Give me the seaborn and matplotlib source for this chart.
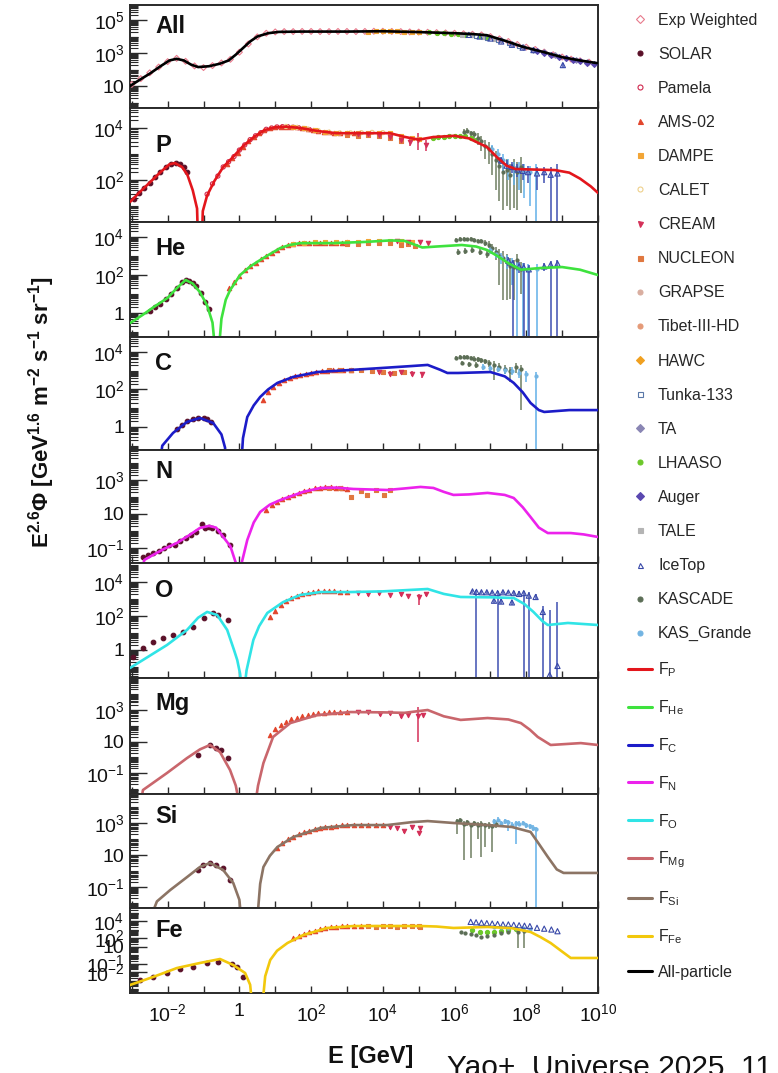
import numpy as np
import matplotlib
matplotlib.use("Agg")
import matplotlib.pyplot as plt
import seaborn as sns
from matplotlib.lines import Line2D
from matplotlib.ticker import FixedLocator, FixedFormatter, NullFormatter, LogLocator, NullLocator

# All values are log10(E / GeV) and log10(E^2.6 * flux)

# ---------------- all-particle ----------------
all_model_lge = [-3.05, -2.8, -2.5, -2.2, -1.95, -1.75, -1.55, -1.35, -1.15, -0.85, -0.55, -0.3, -0.1, 0.1, 0.3, 0.5,
                 0.8, 1.1, 1.7, 3.0, 4.0, 5.0, 6.0, 6.5, 6.9, 7.4, 7.9, 8.5, 9.0, 9.5, 10.0]
all_model_lgf = [1.0, 1.35, 1.75, 2.2, 2.55, 2.65, 2.55, 2.3, 2.15, 2.2, 2.35, 2.55, 2.9, 3.3, 3.7, 4.0,
                 4.2, 4.28, 4.3, 4.3, 4.32, 4.27, 4.2, 4.15, 4.08, 3.75, 3.38, 3.05, 2.75, 2.55, 2.38]
all_expw_lge = [-3.0, -2.75, -2.5, -2.25, -2.0, -1.75, -1.5, -1.25, -1.0, -0.75, -0.5, -0.25, 0.0, 0.25, 0.5, 0.75,
                1.0, 1.25, 1.5, 1.75, 2.0, 2.25, 2.5, 2.75, 3.0, 3.25, 3.5, 3.75, 4.0, 4.25, 4.5, 4.75, 5.0, 5.25,
                5.5, 5.75, 6.0, 6.25, 6.5, 6.75, 7.0, 7.25, 7.5, 7.75, 8.0, 8.25, 8.5, 8.75, 9.0, 9.25, 9.5, 9.75]
all_expw_lgf = [1.1, 1.45, 1.8, 2.15, 2.48, 2.68, 2.5, 2.22, 2.12, 2.24, 2.4, 2.62, 3.05, 3.55, 3.98, 4.2,
                4.28, 4.3, 4.3, 4.31, 4.31, 4.3, 4.3, 4.31, 4.31, 4.3, 4.31, 4.32, 4.32, 4.31, 4.3, 4.28, 4.27, 4.26,
                4.24, 4.22, 4.2, 4.17, 4.14, 4.1, 4.0, 3.86, 3.7, 3.52, 3.36, 3.22, 3.06, 2.9, 2.76, 2.63, 2.53, 2.45]
all_dampe_lge = [3.6, 3.8, 4.0, 4.2, 4.4, 4.6, 4.8, 5.0]
all_dampe_lgf = [4.3, 4.31, 4.32, 4.33, 4.31, 4.3, 4.28, 4.27]
all_lhaaso_lge = [5.3, 5.5, 5.7, 5.9, 6.1, 6.3, 6.5, 6.7, 6.9]
all_lhaaso_lgf = [4.25, 4.22, 4.2, 4.18, 4.15, 4.12, 4.08, 4.04, 3.98]
all_tale_lge = [6.2, 6.5, 6.8, 7.1]
all_tale_lgf = [4.12, 4.07, 3.98, 3.85]
all_tunka_lge = [6.6, 6.9, 7.2, 7.5, 7.8]
all_tunka_lgf = [4.05, 3.93, 3.78, 3.58, 3.4]
all_ta_lge = [7.3, 7.6, 7.9, 8.2, 8.5, 8.8, 9.1, 9.4, 9.7]
all_ta_lgf = [3.78, 3.55, 3.38, 3.2, 3.05, 2.88, 2.7, 2.55, 2.45]
all_auger_lge = [8.3, 8.5, 8.7, 8.9, 9.1, 9.3, 9.5, 9.7, 9.9]
all_auger_lgf = [3.12, 3.0, 2.88, 2.78, 2.68, 2.58, 2.5, 2.42, 2.36]
all_icetop_lge = [6.4, 6.7, 7.0, 7.3, 7.6, 7.9, 8.2, 9.02]
all_icetop_lgf = [4.1, 4.0, 3.88, 3.7, 3.5, 3.33, 3.18, 2.27]
all_icetop_lo = [4.05, 3.95, 3.83, 3.65, 3.45, 3.28, 3.12, 2.1]
all_icetop_hi = [4.15, 4.05, 3.93, 3.75, 3.55, 3.38, 3.24, 2.42]

# ---------------- proton ----------------
p_model_lge = [-3.05, -2.8, -2.5, -2.2, -1.95, -1.8, -1.6, -1.45, -1.3, -1.18, -1.1, -1.02, -0.9, -0.7, -0.45, -0.2,
               0.1, 0.4, 0.7, 1.0, 1.3, 1.7, 2.2, 2.7, 3.5, 4.2, 4.6, 5.0, 5.4, 6.0, 6.4, 6.9, 7.2, 7.45, 7.7,
               8.2, 8.8, 9.2, 9.5, 9.8, 10.0]
p_model_lgf = [1.15, 1.5, 1.9, 2.3, 2.6, 2.65, 2.5, 2.2, 1.6, 0.9, -3.0, 0.8, 1.4, 1.95, 2.5, 2.85,
               3.3, 3.65, 3.92, 4.03, 4.05, 4.0, 3.88, 3.8, 3.8, 3.8, 3.66, 3.55, 3.65, 3.7, 3.6, 3.27, 2.85, 2.55, 2.42,
               2.4, 2.38, 2.28, 2.05, 1.75, 1.5]
p_solar_lge = [-2.95, -2.8, -2.65, -2.5, -2.35, -2.2, -2.05, -1.9, -1.78, -1.65, -1.55, -1.45]
p_solar_lgf = [1.25, 1.5, 1.7, 1.9, 2.1, 2.3, 2.48, 2.62, 2.66, 2.6, 2.5, 2.3]
p_pamela_lge = [-0.9, -0.75, -0.6, -0.45, -0.3, -0.15, 0.0, 0.15, 0.3, 0.45, 0.6, 0.75, 0.9, 1.05, 1.2, 1.35, 1.5,
                1.65, 1.8, 1.95, 2.1]
p_pamela_lgf = [1.45, 1.85, 2.15, 2.5, 2.7, 2.9, 3.15, 3.35, 3.55, 3.7, 3.82, 3.95, 4.0, 4.04, 4.05, 4.05, 4.03,
                4.01, 3.98, 3.94, 3.9]
p_ams_lge = [-0.35, -0.2, -0.05, 0.1, 0.25, 0.4, 0.55, 0.7, 0.85, 1.0, 1.15, 1.3, 1.45, 1.6, 1.75, 1.9, 2.05, 2.2,
             2.35, 2.5, 2.65, 2.8, 3.0, 3.2]
p_ams_lgf = [2.62, 2.85, 3.05, 3.28, 3.48, 3.65, 3.8, 3.92, 3.99, 4.03, 4.05, 4.05, 4.04, 4.02, 4.0, 3.96, 3.92, 3.88,
             3.85, 3.83, 3.81, 3.8, 3.8, 3.79]
p_dampe_lge = [1.5, 1.8, 2.1, 2.4, 2.7, 3.0, 3.3, 3.6, 3.9, 4.2, 4.5, 4.8, 5.0]
p_dampe_lgf = [4.04, 3.99, 3.92, 3.86, 3.82, 3.8, 3.8, 3.81, 3.82, 3.8, 3.7, 3.6, 3.56]
p_calet_lge = [1.3, 1.6, 1.9, 2.2, 2.5, 2.8, 3.1, 3.4, 3.7, 4.0]
p_calet_lgf = [4.06, 4.02, 3.96, 3.9, 3.84, 3.81, 3.81, 3.82, 3.83, 3.82]
p_nucleon_lge = [3.0, 3.3, 3.6, 3.9, 4.2, 4.5]
p_nucleon_lgf = [3.72, 3.7, 3.72, 3.7, 3.62, 3.5]
p_cream_lge = [3.3, 3.6, 3.9, 4.2, 4.5, 4.75, 4.97, 5.2]
p_cream_lgf = [3.78, 3.75, 3.72, 3.65, 3.55, 3.45, 3.54, 3.35]
p_cream_lo = [3.73, 3.7, 3.66, 3.58, 3.45, 3.3, 3.15, 3.1]
p_cream_hi = [3.83, 3.8, 3.78, 3.72, 3.65, 3.6, 3.8, 3.55]
p_lhaaso_lge = [5.4, 5.55, 5.7, 5.85, 6.0, 6.15, 6.3, 6.45, 6.6]
p_lhaaso_lgf = [3.62, 3.64, 3.66, 3.68, 3.7, 3.7, 3.68, 3.62, 3.55]
p_kascade_lge = [6.25, 6.35, 6.45, 6.55, 6.65, 6.75, 6.85, 6.95, 7.05, 7.15, 7.25, 7.35, 7.45, 7.55, 7.65, 7.75, 7.85]
p_kascade_lgf = [3.85, 3.9, 3.8, 3.75, 3.62, 3.5, 3.3, 3.2, 3.0, 2.75, 2.55, 2.3, 2.4, 2.2, 2.45, 2.3, 2.5]
p_kascade_lo = [3.75, 3.8, 3.65, 3.55, 3.35, 3.1, 2.8, 2.6, 2.2, 1.6, 1.2, 0.85, 1.0, 0.85, 0.9, 0.85, 1.5]
p_kascade_hi = [3.95, 4.0, 3.9, 3.9, 3.8, 3.7, 3.55, 3.45, 3.3, 3.1, 2.9, 2.7, 2.8, 2.6, 2.8, 2.7, 2.9]
p_kasgr_lge = [7.05, 7.2, 7.35, 7.5, 7.65, 7.8, 7.95, 8.1, 8.26]
p_kasgr_lgf = [3.2, 3.0, 2.75, 2.55, 2.45, 2.4, 2.35, 2.3, 2.25]
p_kasgr_lo = [3.0, 2.7, 2.3, 2.0, 1.8, 1.6, 1.3, 1.0, -1.0]
p_kasgr_hi = [3.35, 3.2, 3.0, 2.8, 2.7, 2.7, 2.6, 2.55, 2.6]
p_icetop_lge = [7.3, 7.45, 7.6, 7.75, 7.9, 8.05, 8.3, 8.5, 8.68, 8.87]
p_icetop_lgf = [2.75, 2.55, 2.5, 2.4, 2.35, 2.3, 2.25, 2.3, 2.2, 2.25]
p_icetop_lo = [2.6, 2.35, 2.25, 2.1, 2.0, 1.9, 1.6, 1.9, -1.0, -1.0]
p_icetop_hi = [2.9, 2.75, 2.7, 2.6, 2.6, 2.55, 2.5, 2.5, 2.5, 2.6]

# ---------------- helium ----------------
he_model_lge = [-3.05, -2.7, -2.4, -2.0, -1.75, -1.5, -1.3, -1.1, -0.9, -0.75, -0.62, -0.5, -0.38, -0.26, 0.02, 0.3,
                0.58, 0.85, 1.14, 1.4, 1.7, 2.6, 3.5, 4.2, 4.6, 5.1, 5.5, 6.2, 6.6, 6.9, 7.2, 7.5, 7.85, 8.4, 9.0,
                9.5, 10.0]
he_model_lgf = [-0.53, -0.1, 0.3, 0.8, 1.3, 1.74, 1.55, 1.1, 0.4, -0.5, -3.0, -0.3, 0.7, 1.2, 2.0, 2.45,
                2.79, 3.1, 3.42, 3.58, 3.68, 3.68, 3.74, 3.82, 3.8, 3.45, 3.5, 3.58, 3.5, 3.32, 3.0, 2.62, 2.28, 2.37,
                2.42, 2.28, 2.0]
he_solar_lge = [-2.5, -2.35, -2.2, -2.05, -1.9, -1.75, -1.6, -1.5, -1.4, -1.3, -1.2, -1.08, -0.95, -0.85]
he_solar_lgf = [0.1, 0.3, 0.5, 0.75, 1.0, 1.3, 1.62, 1.74, 1.7, 1.58, 1.4, 1.05, 0.6, 0.2]
he_ams_lge = [-0.3, -0.15, 0.0, 0.15, 0.3, 0.45, 0.6, 0.75, 0.9, 1.05, 1.2, 1.35, 1.5, 1.65, 1.8, 1.95, 2.1, 2.25,
              2.4, 2.55, 2.7, 2.85, 3.0]
he_ams_lgf = [1.3, 1.65, 1.95, 2.25, 2.45, 2.65, 2.82, 3.0, 3.16, 3.34, 3.48, 3.58, 3.64, 3.69, 3.71, 3.71, 3.7,
              3.69, 3.68, 3.69, 3.7, 3.71, 3.72]
he_dampe_lge = [1.5, 1.8, 2.1, 2.4, 2.7, 3.0, 3.3, 3.6, 3.9, 4.2, 4.5, 4.8]
he_dampe_lgf = [3.64, 3.7, 3.72, 3.72, 3.72, 3.73, 3.75, 3.78, 3.8, 3.8, 3.78, 3.72]
he_nucleon_lge = [3.0, 3.3, 3.6, 3.9, 4.2, 4.5, 4.7, 4.9]
he_nucleon_lgf = [3.62, 3.65, 3.68, 3.7, 3.66, 3.6, 3.62, 3.55]
he_cream_lge = [4.4, 4.7, 5.05, 5.25]
he_cream_lgf = [3.78, 3.74, 3.74, 3.7]
he_kascade_lge = [6.05, 6.15, 6.25, 6.35, 6.45, 6.55, 6.65, 6.75, 6.85, 6.95, 7.05, 7.15, 7.25, 7.35, 7.45, 7.55,
                  7.65, 7.75, 7.85, 6.1, 6.3, 6.5, 6.7, 6.9]
he_kascade_lgf = [3.85, 3.9, 3.92, 3.88, 3.9, 3.85, 3.8, 3.78, 3.7, 3.6, 3.4, 3.2, 3.0, 2.9, 2.7, 2.5,
                  2.4, 2.8, 2.3, 3.2, 3.25, 3.3, 3.22, 3.1]
he_kascade_lo = [3.78, 3.82, 3.84, 3.8, 3.82, 3.75, 3.7, 3.66, 3.55, 3.4, 3.1, 2.8, 1.5, 0.7, 0.7, 0.75,
                 0.7, 2.2, 1.0, 3.05, 3.1, 3.15, 3.05, 2.9]
he_kascade_hi = [3.95, 4.0, 4.0, 3.96, 3.98, 3.95, 3.9, 3.9, 3.85, 3.8, 3.65, 3.5, 3.35, 3.25, 3.1, 2.9,
                 2.8, 3.1, 2.7, 3.35, 3.4, 3.45, 3.38, 3.28]
he_kasgr_lge = [7.0, 7.15, 7.3, 7.45, 7.6, 7.75, 7.9, 8.05, 8.3]
he_kasgr_lgf = [3.3, 3.1, 2.95, 2.8, 2.6, 2.45, 2.35, 2.3, 2.3]
he_kasgr_lo = [3.1, 2.9, 2.6, 2.3, 1.5, -1.5, -1.5, -1.5, -1.5]
he_kasgr_hi = [3.45, 3.3, 3.15, 3.05, 2.9, 2.75, 2.65, 2.6, 2.6]
he_icetop_lge = [7.5, 7.62, 7.8, 7.93, 8.07, 8.5, 8.68, 8.87]
he_icetop_lgf = [2.75, 2.6, 2.45, 2.4, 2.3, 2.45, 2.55, 2.6]
he_icetop_lo = [2.5, -1.5, 2.1, -1.5, -1.5, 2.2, -1.5, -1.5]
he_icetop_hi = [2.95, 2.8, 2.7, 2.65, 2.55, 2.65, 2.75, 2.8]

# ---------------- carbon ----------------
c_model_lge = [-2.3, -2.15, -1.85, -1.46, -1.1, -0.73, -0.5, -0.4, -0.34, 0.02, 0.1, 0.22, 0.4, 0.58, 0.8, 1.06,
               1.5, 2.17, 3.1, 4.0, 4.8, 5.25, 5.6, 5.8, 6.1, 7.0, 7.4, 7.65, 7.9, 8.12, 8.35, 8.5, 9.2, 10.0]
c_model_lgf = [-3.0, -1.0, -0.32, 0.27, 0.48, 0.21, -0.4, -1.1, -3.0, -3.0, -0.6, 0.53, 1.15, 1.6, 2.0, 2.35,
               2.67, 2.93, 3.04, 3.15, 3.25, 3.31, 3.05, 2.88, 2.88, 2.93, 2.7, 2.35, 1.85, 1.28, 0.9, 0.8, 0.9, 0.9]
c_solar_lge = [-1.75, -1.6, -1.45, -1.3, -1.15, -1.0, -0.9, -0.8]
c_solar_lgf = [-0.1, 0.1, 0.3, 0.42, 0.5, 0.48, 0.4, 0.25]
c_ams_lge = [0.67, 0.8, 0.95, 1.1, 1.25, 1.4, 1.55, 1.7, 1.85, 2.0, 2.15, 2.3, 2.45, 2.6, 2.75, 2.9, 3.1]
c_ams_lgf = [1.45, 1.85, 2.15, 2.35, 2.5, 2.6, 2.7, 2.78, 2.85, 2.9, 2.95, 2.98, 3.0, 3.02, 3.03, 3.04, 3.05]
c_nucleon_lge = [2.5, 2.8, 3.1, 3.4, 3.7, 4.0, 4.3, 4.6]
c_nucleon_lgf = [3.02, 3.05, 3.06, 3.05, 3.0, 2.95, 2.9, 2.95]
c_cream_lge = [3.9, 4.2, 4.5, 4.8, 5.1]
c_cream_lgf = [2.92, 2.85, 2.95, 2.85, 2.8]
c_cream_lo = [2.8, 2.7, 2.82, 2.7, 2.6]
c_cream_hi = [3.02, 2.97, 3.05, 2.97, 2.95]
c_kascade_lge = [6.05, 6.15, 6.25, 6.35, 6.45, 6.55, 6.65, 6.75, 6.85, 6.95, 7.1, 7.25, 7.4, 7.55, 7.7, 7.85,
                 6.2, 6.4, 6.6]
c_kascade_lgf = [3.7, 3.72, 3.75, 3.72, 3.7, 3.65, 3.6, 3.55, 3.5, 3.4, 3.3, 3.2, 3.1, 3.0, 3.2, 3.1,
                 3.4, 3.35, 3.3]
c_kascade_lo = [3.6, 3.62, 3.65, 3.62, 3.6, 3.55, 3.48, 3.42, 3.35, 3.2, 2.5, 3.0, 2.8, 2.4, 2.9, 0.9,
                3.28, 3.22, 3.15]
c_kascade_hi = [3.8, 3.82, 3.85, 3.82, 3.8, 3.76, 3.72, 3.68, 3.64, 3.56, 3.5, 3.4, 3.3, 3.2, 3.4, 3.3,
                3.52, 3.48, 3.45]
c_kasgr_lge = [6.8, 7.0, 7.2, 7.4, 7.6, 7.8, 8.0, 8.26]
c_kasgr_lgf = [3.2, 3.15, 3.1, 3.05, 3.0, 2.9, 2.8, 2.7]
c_kasgr_lo = [3.05, 3.0, 2.95, 2.85, 2.75, 2.6, 2.4, -1.5]
c_kasgr_hi = [3.35, 3.3, 3.25, 3.2, 3.18, 3.1, 3.0, 2.95]

# ---------------- nitrogen ----------------
n_model_lge = [-2.8, -2.65, -2.41, -2.1, -1.74, -1.4, -1.1, -0.85, -0.65, -0.45, -0.25, -0.08, -0.05, 0.05, 0.22, 0.4,
               0.58, 0.85, 1.14, 1.78, 2.26, 2.7, 3.18, 4.12, 4.6, 5.05, 5.41, 5.7, 5.97, 6.4, 6.92, 7.4, 7.65, 7.9,
               8.12, 8.35, 8.6, 9.24, 9.6, 10.0]
n_model_lgf = [-3.0, -1.7, -1.41, -1.05, -0.7, -0.25, 0.18, 0.3, 0.2, -0.35, -0.9, -2.0, -3.0, -2.0, -0.53, 0.5,
               1.12, 1.55, 1.82, 2.3, 2.53, 2.55, 2.47, 2.41, 2.5, 2.59, 2.53, 2.3, 2.12, 2.15, 2.24, 2.12, 1.94, 1.4,
               0.82, 0.2, -0.12, -0.12, -0.2, -0.35]
n_solar_lge = [-2.7, -2.55, -2.4, -2.25, -2.1, -1.95, -1.8, -1.65, -1.5, -1.35, -1.2, -1.04, -0.95, -0.85, -0.75,
               -0.6, -0.45, -0.26]
n_solar_lgf = [-1.55, -1.4, -1.3, -1.15, -1.0, -0.85, -0.8, -0.6, -0.4, -0.25, -0.05, 0.41, 0.2, 0.22, 0.2,
               0.0, -0.23, -0.82]
n_ams_lge = [0.75, 0.9, 1.05, 1.2, 1.35, 1.5, 1.65, 1.8, 1.95, 2.1, 2.25, 2.4, 2.55, 2.7, 2.85, 3.0]
n_ams_lgf = [1.25, 1.5, 1.72, 1.88, 2.0, 2.12, 2.25, 2.35, 2.43, 2.5, 2.55, 2.57, 2.56, 2.52, 2.5, 2.47]
n_nucleon_lge = [2.5, 2.8, 3.1, 3.4, 3.57, 3.8, 4.02, 4.2]
n_nucleon_lgf = [2.55, 2.5, 2.0, 2.35, 2.12, 2.4, 2.1, 2.42]

# ---------------- oxygen ----------------
o_model_lge = [-3.05, -2.69, -2.02, -1.46, -1.15, -0.9, -0.62, -0.34, -0.15, -0.06, 0.02, 0.1, 0.2, 0.39, 0.55, 0.78,
               1.22, 1.7, 2.26, 3.1, 4.0, 4.9, 5.25, 5.7, 6.17, 7.0, 7.65, 7.95, 8.2, 8.45, 8.6, 9.16, 10.0]
o_model_lgf = [-1.06, -0.59, 0.29, 1.18, 1.9, 2.24, 2.06, 1.18, 0.0, -0.59, -1.4, -3.0, -1.2, 0.59, 1.4, 2.18,
               2.82, 3.24, 3.41, 3.41, 3.45, 3.55, 3.59, 3.3, 3.12, 3.1, 3.06, 2.7, 2.24, 1.7, 1.47, 1.59, 1.47]
o_solar_lge = [-2.97, -2.69, -2.41, -2.13, -1.85, -1.57, -1.29, -1.0, -0.73, -0.59, -0.31]
o_solar_lgf = [-0.4, 0.12, 0.47, 0.7, 0.88, 1.06, 1.35, 1.88, 2.18, 2.06, 1.76]
o_ams_lge = [0.86, 1.0, 1.15, 1.3, 1.45, 1.6, 1.75, 1.9, 2.05, 2.2, 2.35, 2.5, 2.65, 2.8, 3.0]
o_ams_lgf = [1.94, 2.3, 2.65, 2.9, 3.05, 3.2, 3.3, 3.38, 3.42, 3.45, 3.47, 3.46, 3.45, 3.44, 3.42]
o_cream_lge = [3.3, 3.6, 3.9, 4.2, 4.5, 4.7, 5.0, 5.2]
o_cream_lgf = [3.38, 3.3, 3.35, 3.25, 3.3, 3.2, 3.1, 3.3]
o_cream_lo = [3.28, 3.2, 3.25, 3.15, 3.2, 3.1, 2.65, 3.2]
o_cream_hi = [3.48, 3.4, 3.45, 3.35, 3.4, 3.3, 3.3, 3.4]
o_icetop_lge = [6.5, 6.61, 6.75, 6.9, 7.05, 7.2, 7.35, 7.5, 7.65, 7.8, 7.93, 8.07, 8.26, 8.46, 8.65, 8.87,
                7.1, 7.3, 7.6]
o_icetop_lgf = [3.45, 3.42, 3.4, 3.4, 3.38, 3.35, 3.4, 3.38, 3.35, 3.3, 3.35, 3.2, 3.12, 2.24, -1.47, -0.94,
                2.9, 2.85, 2.8]
o_icetop_lo = [3.35, -1.7, 3.3, 3.3, 3.28, -1.7, 3.3, 3.28, 3.25, 3.2, -1.7, -1.7, 3.0, -1.7, -1.7, -1.7,
               2.75, 2.7, 2.65]
o_icetop_hi = [3.55, 3.55, 3.5, 3.5, 3.5, 3.5, 3.5, 3.5, 3.45, 3.45, 3.5, 3.4, 3.3, 2.6, 2.35, 2.82,
               3.05, 3.0, 2.95]

# ---------------- magnesium ----------------
mg_model_lge = [-2.75, -2.69, -2.02, -1.46, -1.1, -0.82, -0.54, -0.26, -0.1, 0.0, 0.44, 0.52, 0.67, 0.94, 1.42, 2.17,
                3.1, 4.0, 4.6, 5.25, 5.7, 6.17, 6.92, 7.5, 7.85, 8.1, 8.32, 8.68, 9.52, 10.0]
mg_model_lgf = [-3.0, -2.08, -1.0, -0.05, 0.5, 0.78, 0.33, -0.81, -1.8, -3.0, -3.0, -1.8, -0.37, 1.29, 2.17, 2.68,
                2.87, 2.85, 2.82, 3.0, 2.6, 2.37, 2.49, 2.4, 2.17, 1.75, 1.29, 0.78, 0.9, 0.78]
mg_solar_lge = [-1.15, -0.82, -0.64, -0.52, -0.31]
mg_solar_lgf = [0.14, 0.78, 0.59, 0.46, -0.05]
mg_ams_lge = [0.86, 1.0, 1.15, 1.3, 1.45, 1.6, 1.75, 1.9, 2.05, 2.2, 2.35, 2.5, 2.65, 2.8, 3.0]
mg_ams_lgf = [1.41, 1.8, 2.05, 2.25, 2.4, 2.5, 2.6, 2.68, 2.74, 2.8, 2.83, 2.86, 2.88, 2.88, 2.87]
mg_cream_lge = [3.3, 3.6, 3.93, 4.2, 4.5, 4.7, 4.97, 5.13]
mg_cream_lgf = [2.85, 2.86, 2.75, 2.8, 2.6, 2.7, 2.65, 2.7]
mg_cream_lo = [2.78, 2.78, 2.65, 2.7, 2.5, 2.6, 0.97, 2.6]
mg_cream_hi = [2.92, 2.94, 2.85, 2.9, 2.7, 2.8, 3.19, 2.8]

# ---------------- silicon ----------------
si_model_lge = [-2.49, -2.3, -1.93, -1.46, -1.1, -0.82, -0.45, -0.17, 0.0, 0.05, 0.5, 0.58, 0.67, 0.85, 1.06, 1.5,
                2.26, 3.18, 4.12, 4.8, 5.25, 5.97, 6.92, 7.6, 8.12, 8.35, 8.6, 8.85, 9.04, 10.0]
si_model_lgf = [-3.0, -1.9, -1.19, -0.38, 0.25, 0.5, 0.06, -0.75, -1.8, -3.0, -3.0, -0.8, 0.25, 0.95, 1.5, 2.12,
                2.69, 2.87, 2.87, 3.05, 3.12, 3.0, 2.87, 2.75, 2.44, 1.7, 0.88, 0.1, -0.12, -0.12]
si_solar_lge = [-1.15, -1.01, -0.82, -0.64, -0.45, -0.26]
si_solar_lgf = [0.06, 0.38, 0.5, 0.38, 0.19, -0.56]
si_ams_lge = [1.06, 1.2, 1.35, 1.5, 1.65, 1.8, 1.95, 2.1, 2.25, 2.4, 2.55, 2.7, 2.85, 3.0, 3.2, 3.4, 3.6, 3.8, 4.0]
si_ams_lgf = [1.44, 1.75, 2.0, 2.15, 2.3, 2.42, 2.52, 2.6, 2.67, 2.72, 2.78, 2.82, 2.85, 2.86, 2.87, 2.87, 2.86,
              2.86, 2.85]
si_cream_lge = [4.2, 4.4, 4.6, 4.8, 5.0, 5.05]
si_cream_lgf = [2.75, 2.7, 2.5, 2.75, 2.4, 2.7]
si_cream_lo = [2.65, 2.6, 2.4, 2.65, 2.3, 2.6]
si_cream_hi = [2.85, 2.8, 2.6, 2.85, 2.5, 2.8]
si_kascade_lge = [6.08, 6.15, 6.25, 6.35, 6.45, 6.55, 6.65, 6.75, 6.85, 6.95, 7.05, 7.15]
si_kascade_lgf = [3.1, 3.19, 2.95, 3.05, 2.85, 3.0, 2.9, 2.95, 2.85, 2.9, 2.8, 2.95]
si_kascade_lo = [2.3, 3.05, 0.69, 2.8, 0.8, 2.8, 2.0, 0.9, 1.5, 2.6, 1.2, 2.7]
si_kascade_hi = [3.25, 3.3, 3.1, 3.2, 3.0, 3.15, 3.05, 3.1, 3.0, 3.05, 2.95, 3.1]
si_kasgr_lge = [7.09, 7.2, 7.3, 7.4, 7.5, 7.6, 7.7, 7.8, 7.9, 8.0, 8.1, 8.2, 8.26]
si_kasgr_lgf = [3.1, 3.2, 3.0, 3.1, 3.05, 2.9, 3.0, 2.95, 3.0, 2.85, 2.8, 2.7, 2.6]
si_kasgr_lo = [2.95, 3.05, 2.85, 2.95, 2.5, 2.75, 1.7, 2.8, 2.85, 2.7, 2.6, 2.5, -2.5]
si_kasgr_hi = [3.25, 3.35, 3.15, 3.25, 3.2, 3.05, 3.15, 3.1, 3.15, 3.0, 2.95, 2.85, 2.75]

# ---------------- iron ----------------
fe_model_lge = [-3.05, -2.41, -1.74, -1.1, -0.54, -0.17, 0.16, 0.3, 0.36, 0.64, 0.72, 0.86, 1.05, 1.34, 1.78, 2.45,
                3.18, 5.05, 5.5, 5.97, 6.92, 7.6, 8.12, 8.4, 8.68, 9.0, 9.24, 10.0]
fe_model_lgf = [-3.53, -2.59, -1.53, -0.94, -0.47, -1.18, -2.12, -3.5, -6.0, -6.0, -2.5, -0.59, 0.5, 1.41, 2.35, 3.18,
                3.41, 3.41, 3.35, 3.18, 3.3, 3.15, 2.71, 2.1, 1.41, 0.4, -0.35, -0.35]
fe_solar_lge = [-2.77, -2.41, -2.02, -1.65, -1.29, -0.9, -0.59, -0.2, -0.06, 0.1]
fe_solar_lgf = [-2.94, -2.59, -2.12, -1.65, -1.41, -0.94, -0.82, -1.06, -1.41, -2.59]
fe_ams_lge = [1.5, 1.65, 1.8, 1.95, 2.1, 2.25, 2.4, 2.55, 2.7, 2.85, 3.0, 3.2, 3.4]
fe_ams_lgf = [1.95, 2.25, 2.5, 2.7, 2.88, 3.02, 3.15, 3.25, 3.32, 3.37, 3.4, 3.41, 3.42]
fe_nucleon_lge = [3.6, 3.8, 4.0, 4.2, 4.4, 4.6, 4.8, 5.0, 5.05]
fe_nucleon_lgf = [3.4, 3.35, 3.38, 3.42, 3.35, 3.45, 3.4, 3.42, 3.3]
fe_lhaaso_lge = [6.5, 6.7, 6.9, 7.1, 7.3, 7.5, 7.7]
fe_lhaaso_lgf = [2.9, 2.75, 2.65, 2.7, 2.8, 2.95, 3.05]
fe_kascade_lge = [6.17, 6.3, 6.45, 6.6, 6.75, 6.9, 7.09, 7.3, 7.5, 7.76, 7.93]
fe_kascade_lgf = [2.7, 2.6, 2.5, 2.3, 2.1, 2.2, 2.4, 2.6, 2.7, 2.75, 2.8]
fe_kascade_lo = [2.6, 2.5, 2.4, 2.2, 2.0, 2.1, 2.3, 2.5, 2.6, 0.82, 0.82]
fe_kascade_hi = [2.8, 2.7, 2.6, 2.4, 2.2, 2.3, 2.5, 2.7, 2.8, 2.9, 2.95]
fe_kasgr_lge = [7.1, 7.3, 7.5, 7.7, 7.9, 8.1]
fe_kasgr_lgf = [3.3, 3.25, 3.2, 3.2, 3.15, 3.1]
fe_icetop_lge = [6.45, 6.6, 6.75, 6.9, 7.05, 7.2, 7.35, 7.5, 7.65, 7.8, 7.95, 8.1, 8.3, 8.5, 8.7, 8.87]
fe_icetop_lgf = [3.9, 3.85, 3.8, 3.75, 3.7, 3.65, 3.6, 3.6, 3.55, 3.5, 3.45, 3.4, 3.2, 3.1, 3.0, 2.8]

# ---------------- panel setup ----------------
panel_names = ["All", "P", "He", "C", "N", "O", "Mg", "Si", "Fe"]
panel_ylim_lg = [(-0.33, 5.91), (0.38, 4.77), (-1.26, 4.79), (-1.23, 4.8), (-1.88, 4.76),
                 (-1.65, 5.12), (-2.33, 5.03), (-2.31, 4.81), (-4.47, 5.53)]
panel_ytick_exp = [[1, 3, 5], [2, 4], [0, 2, 4], [0, 2, 4], [-1, 1, 3], [0, 2, 4], [-1, 1, 3], [-1, 1, 3],
                   [-2, -1, 1, 2, 4]]
model_colors = ["#000000", "#e3161c", "#3ee23e", "#1c1cc8", "#ec22ec", "#30e4e6", "#c9666c", "#8c7464", "#f2c80c"]
model_curves = [(all_model_lge, all_model_lgf), (p_model_lge, p_model_lgf), (he_model_lge, he_model_lgf),
                (c_model_lge, c_model_lgf), (n_model_lge, n_model_lgf), (o_model_lge, o_model_lgf),
                (mg_model_lge, mg_model_lgf), (si_model_lge, si_model_lgf), (fe_model_lge, fe_model_lgf)]

panel_data = [
    [("Exp Weighted", all_expw_lge, all_expw_lgf, None, None),
     ("DAMPE", all_dampe_lge, all_dampe_lgf, None, None),
     ("LHAASO", all_lhaaso_lge, all_lhaaso_lgf, None, None),
     ("TALE", all_tale_lge, all_tale_lgf, None, None),
     ("Tunka-133", all_tunka_lge, all_tunka_lgf, None, None),
     ("TA", all_ta_lge, all_ta_lgf, None, None),
     ("Auger", all_auger_lge, all_auger_lgf, None, None),
     ("IceTop", all_icetop_lge, all_icetop_lgf, all_icetop_lo, all_icetop_hi)],
    [("SOLAR", p_solar_lge, p_solar_lgf, None, None),
     ("Pamela", p_pamela_lge, p_pamela_lgf, None, None),
     ("AMS-02", p_ams_lge, p_ams_lgf, None, None),
     ("CALET", p_calet_lge, p_calet_lgf, None, None),
     ("DAMPE", p_dampe_lge, p_dampe_lgf, None, None),
     ("NUCLEON", p_nucleon_lge, p_nucleon_lgf, None, None),
     ("CREAM", p_cream_lge, p_cream_lgf, p_cream_lo, p_cream_hi),
     ("LHAASO", p_lhaaso_lge, p_lhaaso_lgf, None, None),
     ("KASCADE", p_kascade_lge, p_kascade_lgf, p_kascade_lo, p_kascade_hi),
     ("KAS_Grande", p_kasgr_lge, p_kasgr_lgf, p_kasgr_lo, p_kasgr_hi),
     ("IceTop", p_icetop_lge, p_icetop_lgf, p_icetop_lo, p_icetop_hi)],
    [("SOLAR", he_solar_lge, he_solar_lgf, None, None),
     ("AMS-02", he_ams_lge, he_ams_lgf, None, None),
     ("DAMPE", he_dampe_lge, he_dampe_lgf, None, None),
     ("NUCLEON", he_nucleon_lge, he_nucleon_lgf, None, None),
     ("CREAM", he_cream_lge, he_cream_lgf, None, None),
     ("KASCADE", he_kascade_lge, he_kascade_lgf, he_kascade_lo, he_kascade_hi),
     ("KAS_Grande", he_kasgr_lge, he_kasgr_lgf, he_kasgr_lo, he_kasgr_hi),
     ("IceTop", he_icetop_lge, he_icetop_lgf, he_icetop_lo, he_icetop_hi)],
    [("SOLAR", c_solar_lge, c_solar_lgf, None, None),
     ("AMS-02", c_ams_lge, c_ams_lgf, None, None),
     ("NUCLEON", c_nucleon_lge, c_nucleon_lgf, None, None),
     ("CREAM", c_cream_lge, c_cream_lgf, c_cream_lo, c_cream_hi),
     ("KASCADE", c_kascade_lge, c_kascade_lgf, c_kascade_lo, c_kascade_hi),
     ("KAS_Grande", c_kasgr_lge, c_kasgr_lgf, c_kasgr_lo, c_kasgr_hi)],
    [("SOLAR", n_solar_lge, n_solar_lgf, None, None),
     ("AMS-02", n_ams_lge, n_ams_lgf, None, None),
     ("NUCLEON", n_nucleon_lge, n_nucleon_lgf, None, None)],
    [("SOLAR", o_solar_lge, o_solar_lgf, None, None),
     ("AMS-02", o_ams_lge, o_ams_lgf, None, None),
     ("CREAM", o_cream_lge, o_cream_lgf, o_cream_lo, o_cream_hi),
     ("IceTop", o_icetop_lge, o_icetop_lgf, o_icetop_lo, o_icetop_hi)],
    [("SOLAR", mg_solar_lge, mg_solar_lgf, None, None),
     ("AMS-02", mg_ams_lge, mg_ams_lgf, None, None),
     ("CREAM", mg_cream_lge, mg_cream_lgf, mg_cream_lo, mg_cream_hi)],
    [("SOLAR", si_solar_lge, si_solar_lgf, None, None),
     ("AMS-02", si_ams_lge, si_ams_lgf, None, None),
     ("CREAM", si_cream_lge, si_cream_lgf, si_cream_lo, si_cream_hi),
     ("KASCADE", si_kascade_lge, si_kascade_lgf, si_kascade_lo, si_kascade_hi),
     ("KAS_Grande", si_kasgr_lge, si_kasgr_lgf, si_kasgr_lo, si_kasgr_hi)],
    [("SOLAR", fe_solar_lge, fe_solar_lgf, None, None),
     ("AMS-02", fe_ams_lge, fe_ams_lgf, None, None),
     ("NUCLEON", fe_nucleon_lge, fe_nucleon_lgf, None, None),
     ("LHAASO", fe_lhaaso_lge, fe_lhaaso_lgf, None, None),
     ("KASCADE", fe_kascade_lge, fe_kascade_lgf, fe_kascade_lo, fe_kascade_hi),
     ("KAS_Grande", fe_kasgr_lge, fe_kasgr_lgf, None, None),
     ("IceTop", fe_icetop_lge, fe_icetop_lgf, None, None)],
]

experiments = ["Exp Weighted", "SOLAR", "Pamela", "AMS-02", "DAMPE", "CALET", "CREAM", "NUCLEON", "GRAPSE",
               "Tibet-III-HD", "HAWC", "Tunka-133", "TA", "LHAASO", "Auger", "TALE", "IceTop", "KASCADE",
               "KAS_Grande"]
model_labels = [r"F$_\mathregular{P}$", r"F$_\mathregular{He}$", r"F$_\mathregular{C}$", r"F$_\mathregular{N}$",
                r"F$_\mathregular{O}$", r"F$_\mathregular{Mg}$", r"F$_\mathregular{Si}$", r"F$_\mathregular{Fe}$",
                "All-particle"]

# marker styles per experiment
exp_style = {
    "Exp Weighted": dict(marker="D", fc="none", ec="#e87a8c", s=9),
    "SOLAR": dict(marker="o", fc="#5a1028", ec="#5a1028", s=11),
    "Pamela": dict(marker="o", fc="none", ec="#d0284e", s=9),
    "AMS-02": dict(marker="^", fc="#e2452c", ec="#e2452c", s=10),
    "DAMPE": dict(marker="s", fc="#f2a536", ec="#f2a536", s=8),
    "CALET": dict(marker="o", fc="none", ec="#eed08a", s=9),
    "CREAM": dict(marker="v", fc="#d43058", ec="#d43058", s=10),
    "NUCLEON": dict(marker="s", fc="#e07840", ec="#e07840", s=8),
    "GRAPSE": dict(marker="o", fc="#d9aea0", ec="#d9aea0", s=9),
    "Tibet-III-HD": dict(marker="o", fc="#e59a78", ec="#e59a78", s=7),
    "HAWC": dict(marker="D", fc="#f0a020", ec="#f0a020", s=7),
    "Tunka-133": dict(marker="s", fc="none", ec="#5a78a8", s=7),
    "TA": dict(marker="D", fc="#8a86b4", ec="#8a86b4", s=8),
    "LHAASO": dict(marker="o", fc="#6cc82a", ec="#6cc82a", s=9),
    "Auger": dict(marker="D", fc="#5a48b0", ec="#5a48b0", s=9),
    "TALE": dict(marker="s", fc="#b4b4b4", ec="#b4b4b4", s=9),
    "IceTop": dict(marker="^", fc="none", ec="#3848a8", s=14),
    "KASCADE": dict(marker="o", fc="#5c6e56", ec="#5c6e56", s=5),
    "KAS_Grande": dict(marker="o", fc="#72b4e2", ec="#72b4e2", s=5),
}
err_color = {"KASCADE": "#6f7f62", "KAS_Grande": "#62b0e8", "IceTop": "#3e50b2"}

# ---------------- figure ----------------
sns.set_theme(style="white")
plt.rcParams["font.family"] = ["Liberation Sans", "DejaVu Sans"]
plt.rcParams["mathtext.fontset"] = "custom"
plt.rcParams["mathtext.rm"] = "Liberation Sans"
plt.rcParams["mathtext.it"] = "Liberation Sans:italic"
plt.rcParams["mathtext.bf"] = "Liberation Sans:bold"
plt.rcParams["mathtext.sf"] = "Liberation Sans"

W, H = 778, 1073
fig = plt.figure(figsize=(W / 100, H / 100), dpi=100)
fig.patch.set_facecolor("white")

X0, X1 = 130, 598
XLIM_LG = (-3.05, 10.0)
panel_top_px = [5, 108, 222, 337, 450, 563, 678, 794, 908]
panel_bot_px = [108, 222, 337, 450, 563, 678, 794, 908, 993]
label_top_px = [15, 134, 237, 352, 460, 579, 692, 805, 919]
frame_color = "#2a2a2a"


def ytick_text(e):
    if e == 0:
        return "1"
    if e == 1:
        return "10"
    return r"$10^{%d}$" % e


def xtick_text(e):
    if e % 2:
        return ""
    return ytick_text(e)


for i, name in enumerate(panel_names):
    top, bot = panel_top_px[i], panel_bot_px[i]
    ax = fig.add_axes([X0 / W, 1 - bot / H, (X1 - X0) / W, (bot - top) / H])
    ax.set_xscale("log")
    ax.set_yscale("log")
    ax.set_facecolor("white")

    # measurements
    for exp, lge, lgf, lo, hi in panel_data[i]:
        st = exp_style[exp]
        e = 10.0 ** np.asarray(lge)
        f = 10.0 ** np.asarray(lgf)
        if lo is not None:
            ylo = f - 10.0 ** np.asarray(lo)
            yhi = 10.0 ** np.asarray(hi) - f
            ax.errorbar(e, f, yerr=[ylo, yhi], fmt="none", ecolor=err_color.get(exp, st["ec"]),
                        elinewidth=1.1, capsize=0, zorder=2)
        sns.scatterplot(x=e, y=f, ax=ax, marker=st["marker"], s=st["s"], facecolor=st["fc"],
                        edgecolor=st["ec"], linewidth=0.8, legend=False, zorder=3)

    # model curve
    me, mf = model_curves[i]
    sns.lineplot(x=10.0 ** np.asarray(me), y=10.0 ** np.asarray(mf), ax=ax, color=model_colors[i],
                 lw=1.9, sort=False, estimator=None, legend=False, zorder=4)

    ax.set_xlim(10 ** XLIM_LG[0], 10 ** XLIM_LG[1])
    ylo_lg, yhi_lg = panel_ylim_lg[i]
    ax.set_ylim(10 ** ylo_lg, 10 ** yhi_lg)

    # y axis: labelled decades long, all decades + sub-decades short
    exps = panel_ytick_exp[i]
    ax.yaxis.set_major_locator(FixedLocator([10.0 ** e for e in exps]))
    ax.yaxis.set_major_formatter(FixedFormatter([ytick_text(e) for e in exps]))
    ax.yaxis.set_minor_locator(LogLocator(base=10, subs=np.arange(1, 10) * 1.0, numticks=200))
    ax.yaxis.set_minor_formatter(NullFormatter())

    xe = list(range(-3, 11))
    ax.xaxis.set_major_locator(FixedLocator([10.0 ** e for e in xe]))
    if i == len(panel_names) - 1:
        ax.xaxis.set_major_formatter(FixedFormatter([xtick_text(e) for e in xe]))
    else:
        ax.xaxis.set_major_formatter(NullFormatter())
    ax.xaxis.set_minor_locator(NullLocator())

    ax.tick_params(axis="y", which="major", direction="in", length=12, width=1.0, left=True, right=False,
                   labelsize=14, pad=4, color=frame_color, labelcolor="#111111")
    ax.tick_params(axis="y", which="minor", direction="in", length=6, width=0.8, left=True, right=False,
                   color=frame_color)
    ax.tick_params(axis="x", which="major", direction="in", length=5, width=1.0, bottom=True, top=False,
                   labelsize=14, pad=7, color=frame_color, labelcolor="#111111")
    for sp in ax.spines.values():
        sp.set_color(frame_color)
        sp.set_linewidth(1.4)
    ax.grid(False)

    fig.text(155 / W, 1 - label_top_px[i] / H, name, fontsize=17, fontweight="bold", ha="left", va="top",
             color="#111111")

# axis titles
fig.text(42 / W, 1 - 412 / H, r"$\mathbf{E^{2.6}\Phi\ [GeV^{1.6}\ m^{-2}\ s^{-1}\ sr^{-1}]}$",
         rotation=90, ha="center", va="center", fontsize=16, color="#111111")
fig.text(371 / W, 1 - 1056 / H, "E [GeV]", ha="center", va="center", fontsize=17, fontweight="bold",
         color="#111111")
fig.text(447 / W, 1 - 1076 / H, "Yao+, Universe 2025, 11", ha="left", va="baseline", fontsize=21.5,
         color="#111111")

# legend
handles = []
for exp in experiments:
    st = exp_style[exp]
    handles.append(Line2D([], [], ls="none", marker=st["marker"], ms=3.6,
                          mfc=st["fc"], mec=st["ec"], mew=0.8))
line_cols = model_colors[1:] + [model_colors[0]]
for c in line_cols:
    handles.append(Line2D([], [], color=c, lw=2.2))
labels = experiments + model_labels
fig.legend(handles, labels, loc="upper left", bbox_to_anchor=(628 / W, 1 - 12.5 / H), frameon=False,
           fontsize=11.5, labelspacing=1.196, handlelength=1.5, handletextpad=0.38, borderaxespad=0,
           borderpad=0)

fig.savefig("out.png", dpi=100, facecolor="white")
